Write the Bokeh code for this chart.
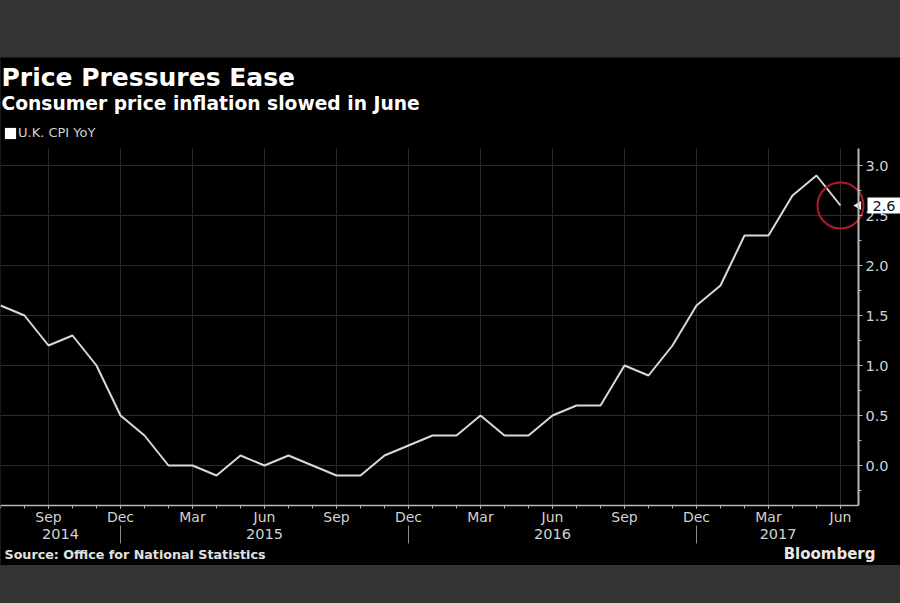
import math
from bokeh.plotting import figure
from bokeh.models import (LinearAxis, FixedTicker, Label, Legend, LegendItem, Range1d,
                          Spacer, NumeralTickFormatter)
from bokeh.layouts import column
from bokeh.embed import file_html
from bokeh.resources import INLINE

# ---- data (U.K. CPI YoY, Jul 2014 .. Jun 2017) ----
months = ["2014-07", "2014-08", "2014-09", "2014-10", "2014-11", "2014-12",
          "2015-01", "2015-02", "2015-03", "2015-04", "2015-05", "2015-06",
          "2015-07", "2015-08", "2015-09", "2015-10", "2015-11", "2015-12",
          "2016-01", "2016-02", "2016-03", "2016-04", "2016-05", "2016-06",
          "2016-07", "2016-08", "2016-09", "2016-10", "2016-11", "2016-12",
          "2017-01", "2017-02", "2017-03", "2017-04", "2017-05", "2017-06"]
cpi = [1.6, 1.5, 1.2, 1.3, 1.0, 0.5,
       0.3, 0.0, 0.0, -0.1, 0.1, 0.0,
       0.1, 0.0, -0.1, -0.1, 0.1, 0.2,
       0.3, 0.3, 0.5, 0.3, 0.3, 0.5,
       0.6, 0.6, 1.0, 0.9, 1.2, 1.6,
       1.8, 2.3, 2.3, 2.7, 2.9, 2.6]
month_index = list(range(len(months)))

quarter_ticks = [2, 5, 8, 11, 14, 17, 20, 23, 26, 29, 32, 35]
quarter_labels = ["Sep", "Dec", "Mar", "Jun", "Sep", "Dec",
                  "Mar", "Jun", "Sep", "Dec", "Mar", "Jun"]
year_label_pos = [2.5, 11, 23, 32.4]
year_labels = ["2014", "2015", "2016", "2017"]
year_breaks = [5, 17, 29]
y_ticks = [0.0, 0.5, 1.0, 1.5, 2.0, 2.5, 3.0]
y_minor_ticks = [-0.25, 0.25, 0.75, 1.25, 1.75, 2.25, 2.75]

title_text = "Price Pressures Ease"
subtitle_text = "Consumer price inflation slowed in June"
series_name = "U.K. CPI YoY"
source_text = "Source: Office for National Statistics"
brand_text = "Bloomberg"

# plot box (data units) inside the black canvas
X_END = 35.75          # right axis position
Y_LO, Y_HI = -0.4, 3.17
YEAR_AXIS_Y = -0.63
SEP_AXIS_Y = -0.6

FONT = "DejaVu Sans"
GRID = "#2b2b2b"
AXIS = "#b8b8b8"
TXT = "#d2d2d2"

p = figure(width=900, height=508, x_range=Range1d(0, 37.5), y_range=Range1d(-1.0, 4.08),
           output_backend="svg", toolbar_location=None, title_location=None,
           x_axis_location="below", y_axis_location="right",
           background_fill_color="black", border_fill_color="black",
           min_border=0, min_border_left=0, min_border_right=0,
           min_border_top=0, min_border_bottom=0)
p.outline_line_color = None
p.xgrid.visible = False
p.ygrid.visible = False

# grid lines restricted to the plot box
p.segment(x0=quarter_ticks, y0=[Y_LO] * len(quarter_ticks), x1=quarter_ticks,
          y1=[Y_HI] * len(quarter_ticks), line_color=GRID, line_width=1)
p.segment(x0=[0] * len(y_ticks), y0=y_ticks, x1=[X_END] * len(y_ticks), y1=y_ticks,
          line_color=GRID, line_width=1)

# x axis (months)
xa = p.xaxis[0]
xa.fixed_location = Y_LO
xa.bounds = (0, X_END)
xa.ticker = FixedTicker(ticks=quarter_ticks, minor_ticks=month_index)
xa.major_label_overrides = {t: l for t, l in zip(quarter_ticks, quarter_labels)}
xa.axis_line_color = AXIS
xa.axis_line_width = 1.5
xa.major_tick_line_color = AXIS
xa.minor_tick_line_color = AXIS
xa.major_tick_in = 0
xa.major_tick_out = 3
xa.minor_tick_in = 0
xa.minor_tick_out = 3
xa.major_label_standoff = 0
xa.major_label_text_color = TXT
xa.major_label_text_font = FONT
xa.major_label_text_font_size = "14px"

# year separators
sep_axis = LinearAxis(fixed_location=SEP_AXIS_Y, ticker=FixedTicker(ticks=year_breaks))
sep_axis.axis_line_color = None
sep_axis.major_tick_line_color = "#8c8c8c"
sep_axis.major_tick_in = 0
sep_axis.major_tick_out = 18
sep_axis.minor_tick_line_color = None
sep_axis.major_label_text_alpha = 0
sep_axis.major_label_text_font_size = "1px"
p.add_layout(sep_axis, "below")

# year labels
year_axis = LinearAxis(fixed_location=YEAR_AXIS_Y,
                       ticker=FixedTicker(ticks=year_label_pos),
                       major_label_overrides={t: l for t, l in zip(year_label_pos, year_labels)})
year_axis.axis_line_color = None
year_axis.major_tick_line_color = None
year_axis.minor_tick_line_color = None
year_axis.major_tick_in = 0
year_axis.major_tick_out = 0
year_axis.major_label_standoff = 0
year_axis.major_label_text_color = TXT
year_axis.major_label_text_font = FONT
year_axis.major_label_text_font_size = "14.5px"
p.add_layout(year_axis, "below")

# right y axis
ra = p.yaxis[0]
ra.fixed_location = X_END
ra.bounds = (Y_LO, Y_HI)
ra.ticker = FixedTicker(ticks=y_ticks, minor_ticks=y_minor_ticks)
ra.formatter = NumeralTickFormatter(format="0.0")
ra.axis_line_color = AXIS
ra.axis_line_width = 2
ra.major_tick_line_color = AXIS
ra.minor_tick_line_color = AXIS
ra.major_tick_in = 0
ra.major_tick_out = 4
ra.minor_tick_in = 0
ra.minor_tick_out = 3
ra.major_label_standoff = 3
ra.major_label_text_color = TXT
ra.major_label_text_font = FONT
ra.major_label_text_font_size = "14.5px"

# series
p.line(month_index, cpi, line_color="#d9d9d9", line_width=2)
p.scatter([month_index[-1]], [cpi[-1]], marker="circle", size=46,
          fill_color=None, line_color="#b01c2e", line_width=2)

# legend swatch: zero-size rects on the series (invisible in the plot, square in the legend)
sq = p.rect(x=month_index, y=cpi, width=0, height=0, fill_color="white", line_color=None)
legend = Legend(items=[LegendItem(label=series_name, renderers=[sq])],
                location=(3, 425), padding=0, margin=0, spacing=0,
                glyph_width=14, glyph_height=14, label_standoff=1,
                label_text_font=FONT, label_text_font_size="13px",
                label_text_color=TXT, label_height=13,
                background_fill_alpha=0, border_line_color=None)
p.add_layout(legend, "center")

# titles
p.add_layout(Label(x=1, y=488, x_units="screen", y_units="screen", text=title_text,
                   text_font=FONT, text_font_size="25px", text_font_style="bold",
                   text_color="white", text_baseline="alphabetic"))
p.add_layout(Label(x=1, y=462, x_units="screen", y_units="screen", text=subtitle_text,
                   text_font=FONT, text_font_size="18.7px", text_font_style="bold",
                   text_color="white", text_baseline="alphabetic"))

# last value tag (pointer + box)
p.scatter([X_END], [cpi[-1]], marker="triangle", angle=math.pi / 2, size=9,
          fill_color="white", line_color=None)
p.add_layout(Label(x=X_END, y=cpi[-1], x_offset=9, text=f"{cpi[-1]:.1f}",
                   text_font=FONT, text_font_size="14.5px", text_color="#111111",
                   text_baseline="middle", text_align="left",
                   background_fill_color="white",
                   padding=dict(left=5, right=12, top=3, bottom=3)))

# footer
p.add_layout(Label(x=4, y=11, x_units="screen", y_units="screen", text=source_text,
                   text_font=FONT, text_font_size="12.7px", text_font_style="bold",
                   text_color="#e0e0e0", text_baseline="alphabetic"))
p.add_layout(Label(x=875, y=12, x_units="screen", y_units="screen", text=brand_text,
                   text_font=FONT, text_font_size="15px", text_font_style="bold",
                   text_color="#e8e8e8", text_baseline="alphabetic", text_align="right"))

layout = column(Spacer(width=900, height=57), p)

html = file_html(layout, INLINE, title="Price Pressures Ease")
html = html.replace("</head>", "<style>html, body { background: #333333; }</style></head>", 1)
open("out.html", "w").write(html)
